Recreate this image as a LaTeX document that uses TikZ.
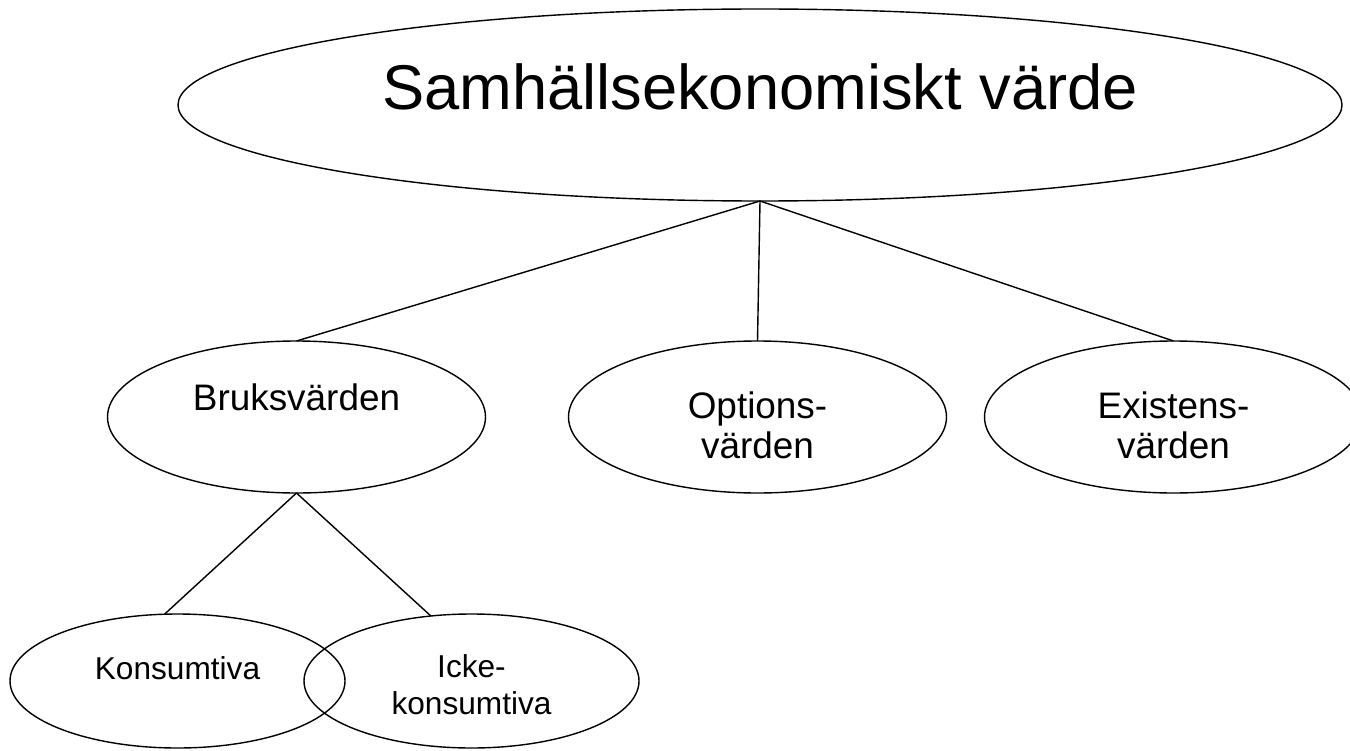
\documentclass[tikz,border=0pt]{standalone}
\usepackage{fontspec}
\setmainfont{Liberation Sans}
\usepackage{tikz}
\usetikzlibrary{shapes.geometric}

\begin{document}
\begin{tikzpicture}[
	oval/.style={draw, ellipse, line width=0.8pt, inner sep=0pt, outer sep=0pt, align=center},
	stor/.style={oval, minimum width=23.28cm, minimum height=3.84cm, font=\fontsize{36}{40}\selectfont},
	mellan/.style={oval, minimum width=7.56cm, minimum height=3.04cm, font=\fontsize{21}{22.5}\selectfont},
	liten/.style={oval, minimum width=6.7cm, minimum height=2.68cm, font=\fontsize{18}{20.5}\selectfont},
	gren/.style={line width=0.8pt}]
	\useasboundingbox (0, 0) rectangle (27, 15);

	\node[stor, text depth=0.72cm] (topp) at (15.2, 12.9) {Samhällsekonomiskt värde};

	\node[mellan, text depth=0.78cm] (bruk) at (5.93, 6.66) {Bruksvärden};
	\node[mellan, text height=1.64cm, text depth=0cm] (option) at (15.15, 6.66) {Options-\\värden};
	\node[mellan, text height=1.64cm, text depth=0cm] (existens) at (23.47, 6.66) {Existens-\\värden};

	\node[liten, text depth=0.5cm] (konsum) at (3.55, 1.38) {Konsumtiva};
	\node[liten, text height=1.32cm, text depth=0cm] (icke) at (9.43, 1.38) {Icke-\\konsumtiva};

	\draw[gren] (topp.south) -- (bruk.north);
	\draw[gren] (topp.south) -- (option.north);
	\draw[gren] (topp.south) -- (existens.north);

	\draw[gren] (bruk.south) -- (konsum.101);
	\draw[gren] (bruk.south) -- (icke.122);
\end{tikzpicture}
\end{document}
